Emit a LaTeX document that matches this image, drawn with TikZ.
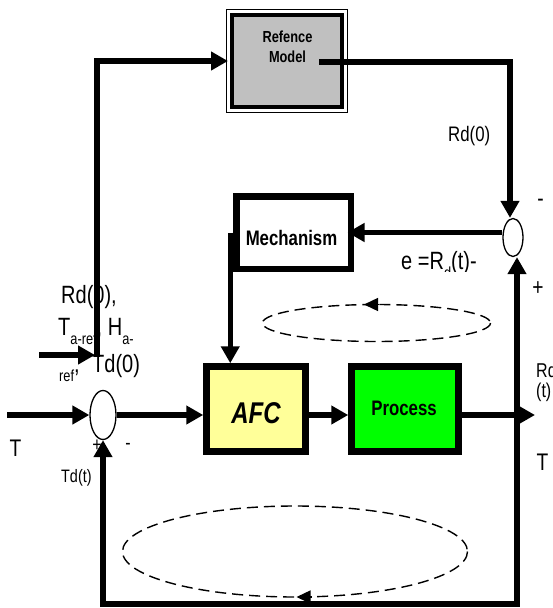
\documentclass[tikz,border=0pt]{standalone}
\usepackage{fontspec}
\setmainfont{Liberation Sans}[FakeStretch=0.8]
\usetikzlibrary{arrows.meta,shapes.geometric,calc}
\newcommand\setfs[1]{\fontsize{#1}{#1}\selectfont}
\newcommand\subtxt[1]{\raisebox{-9pt}{\setfs{16}#1}}
\definecolor{refgray}{HTML}{C0C0C0}
\definecolor{afcyellow}{HTML}{FFFF99}
\definecolor{procgreen}{HTML}{00FF00}
\begin{document}
\begin{tikzpicture}[x=1pt,y=-1pt,
  arr/.style={line width=5.5pt,-{Triangle[length=17pt,width=18pt]}},
  blockbox/.style={draw,line width=6.5pt,inner sep=0pt,outer sep=3.25pt},
  sumnode/.style={draw,ellipse,line width=1.3pt,fill=white,inner sep=0pt},
  loopline/.style={line width=1.4pt,dash pattern=on 11pt off 6pt},
  looparr/.style={line width=1.4pt,-{Triangle[length=14pt,width=13pt]}},
  lbl/.style={inner sep=0pt,anchor=base west},
]
\useasboundingbox (0,0) rectangle (552,608);
\clip (0,0) rectangle (552,608);

% Reference model
\node[draw,line width=4pt,fill=refgray,minimum width=110pt,minimum height=92pt,inner sep=0pt,outer sep=0pt] (Ref) at (287,61) {};
\draw[line width=1pt] ([shift={(-5.5,-5.5)}]Ref.north west) rectangle ([shift={(5.5,5.5)}]Ref.south east);
\node[inner sep=0pt,anchor=base,font=\bfseries\setfs{16}] (RefT1) at (287.5,42) {Refence};
\node[inner sep=0pt,anchor=base,font=\bfseries\setfs{16}] (RefT2) at (287.5,62) {Model};

% Mechanism
\node[blockbox,fill=white,minimum width=114.5pt,minimum height=72.5pt] (Mech) at (293.5,232.5) {};
\node[inner sep=0pt,anchor=base,font=\bfseries\setfs{21}] (MechT) at (291.5,245) {Mechanism};

% AFC and Process
\node[blockbox,fill=afcyellow,minimum width=99pt,minimum height=85pt] (AFC) at (256,409) {};
\node[inner sep=0pt,anchor=base,font=\bfseries\itshape\setfs{30}] (AFCT) at (256,423) {AFC};
\node[blockbox,fill=procgreen,minimum width=107pt,minimum height=85pt] (Proc) at (405,409) {};
\node[inner sep=0pt,anchor=base,font=\bfseries\setfs{21}] (ProcT) at (404,415) {Process};

% labels under lines
\node[font=\setfs{20},inner sep=0pt] (PlusS1) at (97,446) {+};
\node[font=\setfs{20},inner sep=0pt] (MinusS1) at (128,446) {-};
\node[font=\setfs{24},inner sep=0pt] (MinusS2) at (540.5,203) {-};
\node[font=\setfs{24},inner sep=0pt] (PlusS2) at (538,289) {+};
\node[lbl,font=\setfs{21}] (RdTop) at (448,141) {Rd(0)};
\begin{scope}
  \clip (380,240) rectangle (500,271.5);
  \node[lbl,font=\setfs{25}] (ELbl) at (401,269) {e =R\subtxt{d}(t)-};
\end{scope}
\begin{scope}
  \clip (40,280) rectangle (160,381);
  \node[lbl,font=\setfs{25}] (L1) at (61,303) {Rd(0),};
  \node[lbl,font=\setfs{25}] (L2) at (58,335) {T\subtxt{a-ref}, H\subtxt{a-}};
  \node[lbl,font=\setfs{25}] (L3) at (59,372) {\subtxt{ref},};
  \node[lbl,font=\setfs{25}] (L4) at (92,372) {Td(0)};
\end{scope}
\node[lbl,font=\setfs{24}] (TL) at (9.5,456.5) {T};
\node[lbl,font=\setfs{18}] (TdT) at (61,482) {Td(t)};
\node[lbl,font=\setfs{20}] (RdR) at (536,377) {Rd};
\node[lbl,font=\setfs{20}] (RdT) at (536,397) {(t)};
\node[lbl,font=\setfs{24}] (TR) at (536.5,470) {T};

% summing junctions
\node[sumnode,minimum width=26pt,minimum height=49pt] (S1) at (103,415) {};
\node[sumnode,minimum width=20pt,minimum height=38pt] (S2) at (513,237.5) {};

% connectors
\coordinate (Tin) at (7,415);
\draw[arr] (Tin) -- (S1.west);
\draw[arr] (S1.east) -- (S1.east -| AFC.west);
\draw[arr] (S1.east -| AFC.east) -- (S1.east -| Proc.west);
\coordinate (Out) at (535,415);
\draw[arr] (S1.east -| Proc.east) -- (Out);
\coordinate (Bc) at (517,604);
\draw[arr] ([yshift=-2.75pt]Bc) -- (Bc |- S2.south);
\draw[arr] (Bc) -| (S1.south);
\coordinate (RefOut) at (319,62);
\draw[arr] (RefOut) -| ([xshift=-3pt]S2.north);
\draw[arr] (Mech.east -| S2.west) -- ([xshift=-6.5pt]Mech.east);
\draw[arr] ([xshift=-2.75pt]Mech.west) -- ([xshift=-2.75pt]Mech.west |- AFC.north);
\coordinate (Lin) at (39,355);
\coordinate (Lc) at (97,355);
\draw[arr] ([yshift=-2pt]Lc) |- ([xshift=-4pt]Ref.west);
\draw[arr] (Lin) -- ([xshift=-2pt]Lc);

% loop indicators
\draw[loopline] (376.5,323) ellipse [x radius=114, y radius=18.5];
\draw[looparr] (379,304.5) -- (364,304.5);
\draw[loopline] (295,551.5) ellipse [x radius=172.5, y radius=45.5];
\draw[looparr] (312,597) -- (296.5,597);
\end{tikzpicture}
\end{document}
